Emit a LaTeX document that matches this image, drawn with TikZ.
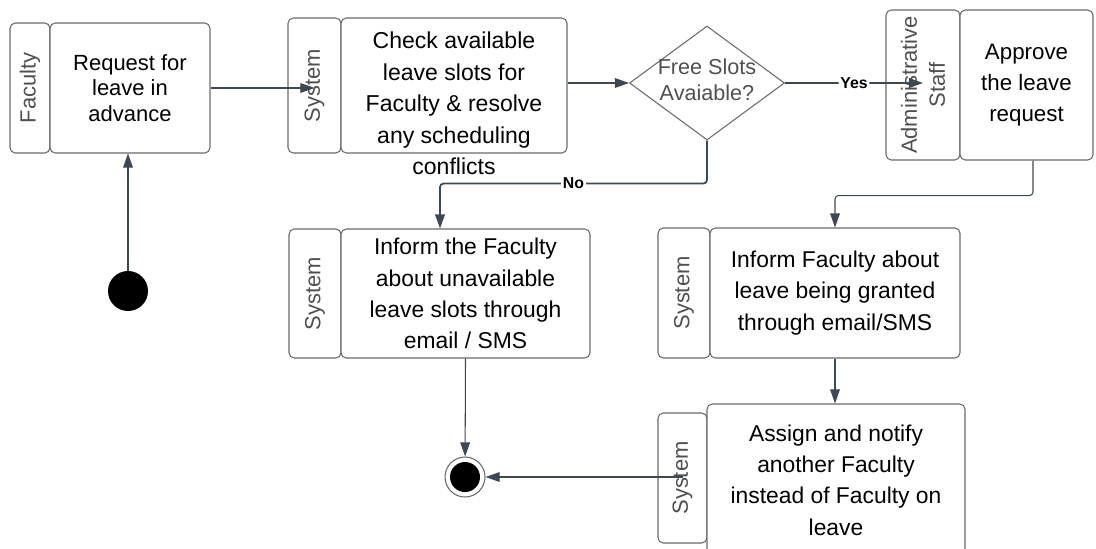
\documentclass[tikz,border=0pt]{standalone}
\usepackage{fontspec}
\setmainfont{Liberation Sans}
\usetikzlibrary{positioning,shapes.geometric,arrows.meta}

\definecolor{edgecol}{HTML}{3E4852}
\definecolor{boxline}{HTML}{6A6A6A}
\definecolor{lanetext}{HTML}{505050}

\begin{document}
\begin{tikzpicture}[
    act/.style={draw=boxline,line width=0.6pt,rounded corners=3pt,fill=white,align=center,inner sep=0pt,font=\fontsize{13}{17.8}\selectfont},
    lane/.style={draw=boxline,line width=0.6pt,rounded corners=3pt,fill=white,rotate=90,align=center,inner sep=0pt,text=lanetext,font=\fontsize{12.5}{15.9}\selectfont},
    flow/.style={draw=edgecol,line width=0.6pt,-{Triangle[length=8pt,width=5.5pt]}},
    branch/.style={flow,line width=1pt,rounded corners=2pt},
    guard/.style={fill=white,inner sep=1pt,font=\fontsize{9}{10}\selectfont\bfseries}]
    \useasboundingbox (0,0) rectangle (21.92,-10.96);

    % faculty request
    \node[lane,minimum width=2.6cm,minimum height=0.8cm](reqlane)at(0.6,-1.76){Faculty};
    \node[act,minimum width=3.2cm,minimum height=2.6cm,font=\fontsize{12.5}{14.7}\selectfont](req)at(2.6,-1.76){Request for\\leave in\\advance};
    \node[circle,fill=black,minimum size=0.8cm,inner sep=0pt](start)at(2.56,-5.82){};

    % system checks the slots
    \node[lane,minimum width=2.7cm,minimum height=1.06cm](chklane)at(6.29,-1.71){System};
    \node[act,minimum width=4.52cm,minimum height=2.7cm,
          label={[align=center,font=\fontsize{13.1}{17.9}\selectfont,yshift=-0.36cm]center:Check available\\leave slots for\\Faculty \& resolve\\any scheduling\\conflicts}](chk)at(9.08,-1.71){};

    \node[diamond,draw=boxline,line width=0.6pt,fill=white,aspect=1.36,inner sep=0pt,minimum width=3.1cm,minimum height=2.28cm,
          label={[align=center,text=lanetext,font=\fontsize{12.3}{14.7}\selectfont,yshift=0.06cm]center:Free Slots\\Avaiable?}](dec)at(14.14,-1.66){};

    % approval
    \node[lane,minimum width=3.0cm,minimum height=1.48cm](admlane)at(18.46,-1.7){Administrative\\Staff};
    \node[act,minimum width=2.66cm,minimum height=3.0cm,font=\fontsize{12.7}{17.6}\selectfont](adm)at(20.53,-1.7){Approve\\the leave\\request};

    % no slots
    \node[lane,minimum width=2.58cm,minimum height=1.04cm](unavlane)at(6.3,-5.87){System};
    \node[act,minimum width=4.98cm,minimum height=2.58cm](unav)at(9.31,-5.87){Inform the Faculty\\about unavailable\\leave slots through\\email / SMS};

    % leave granted
    \node[lane,minimum width=2.6cm,minimum height=1.04cm](grantlane)at(13.68,-5.86){System};
    \node[act,minimum width=5.0cm,minimum height=2.6cm](grant)at(16.7,-5.86){Inform Faculty about\\leave being granted\\through email/SMS};

    \node[lane,minimum width=2.6cm,minimum height=0.98cm](asglane)at(13.65,-9.56){System};
    \node[act,minimum width=5.16cm,minimum height=3.04cm](asg)at(16.72,-9.6){Assign and notify\\another Faculty\\instead of Faculty on\\leave};

    % end
    \node[circle,draw=boxline,line width=0.6pt,fill=white,minimum size=0.8cm,inner sep=0pt](fin)at(9.3,-9.54){};
    \node[circle,fill=black,minimum size=0.6cm,inner sep=0pt](findot)at(fin){};

    \coordinate (nojoin) at ([xshift=-0.51cm]unav.north);

    \draw[flow] (start) -- (start |- req.south);
    \draw[flow] (req.east) -- (req.east -| chklane.west);
    \draw[flow] (dec.west -| chk.east) -- (dec.west);
    \draw[branch] (dec.east) -- node[guard,pos=0.5]{Yes} (dec.east -| admlane.west);
    \draw[branch] (dec.south) -- ++(0,-0.86) -| node[guard,pos=0.25]{No} (nojoin);
    \draw[flow,rounded corners=2pt] ([xshift=0.13cm]adm.south) -- ++(0,-0.7) -| (grant.north);
    \draw[flow] (grant.south) -- (grant.south |- asg.north);
    \draw[flow] (unav.south) -- (fin);
    \draw[flow] (asglane.west |- fin) -- (fin);
\end{tikzpicture}
\end{document}
